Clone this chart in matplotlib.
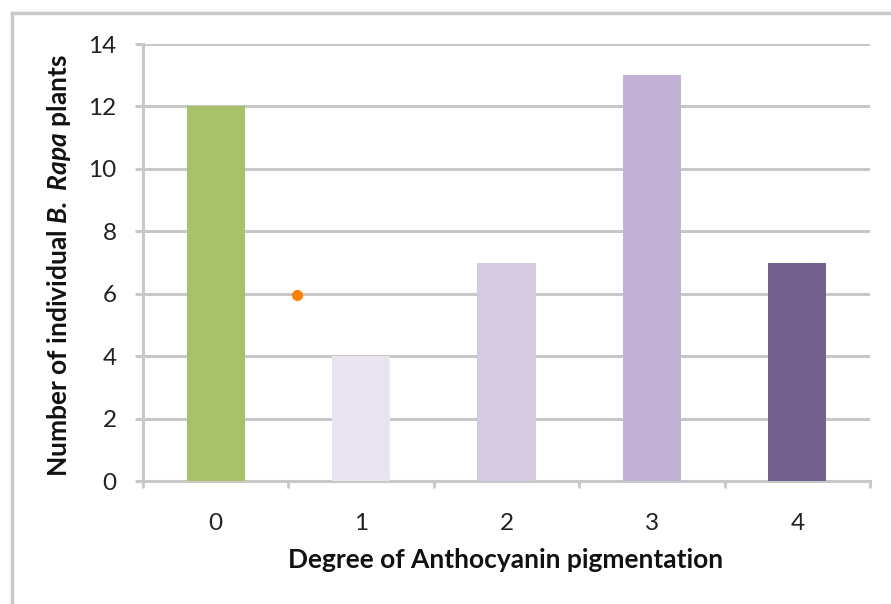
import matplotlib
matplotlib.use("Agg")
import matplotlib.pyplot as plt
from matplotlib.lines import Line2D
import numpy as np

categories = ["0", "1", "2", "3", "4"]
counts = [12, 4, 7, 13, 7]
bar_colors = ["#a9c26a", "#e9e4f0", "#d5cbe0", "#c1b1d4", "#74608f"]
yticks = [0, 2, 4, 6, 8, 10, 12, 14]

plt.rcParams['font.family'] = ['Lato', 'DejaVu Sans']
plt.rcParams['mathtext.fontset'] = 'custom'
plt.rcParams['mathtext.bfit'] = 'Lato:italic:bold'
plt.rcParams['mathtext.bf'] = 'Lato:bold'
plt.rcParams['mathtext.it'] = 'Lato:italic'
plt.rcParams['mathtext.rm'] = 'Lato'

W, H = 891, 604
fig = plt.figure(figsize=(W/100, H/100), dpi=100)
ax = fig.add_axes([143/W, 1-481/H, (870-143)/W, (481-44)/H])

grid_c = "#c8c8c8"
x = np.arange(len(categories))
ax.bar(x, counts, width=0.4, color=bar_colors, zorder=3)

ax.set_xlim(-0.5, len(categories)-0.5)
ax.set_ylim(0, 14)
ax.set_yticks(yticks)
ax.set_yticklabels([str(t) for t in yticks])
ax.yaxis.grid(True, color=grid_c, lw=2.2, zorder=0)
ax.set_axisbelow(True)

ax.set_xticks(x)
ax.set_xticklabels(categories)
ax.set_xticks(np.arange(len(categories)+1)-0.5, minor=True)
ax.tick_params(axis='x', which='major', length=0, pad=23, labelsize=17.5, labelcolor='#222222')
ax.tick_params(axis='x', which='minor', length=5, width=2, color=grid_c, direction='out')
ax.tick_params(axis='y', which='major', length=6, width=2.2, color=grid_c, pad=13, labelsize=17.5, labelcolor='#222222')

for s in ['top', 'right']:
    ax.spines[s].set_visible(False)
for s in ['left', 'bottom']:
    ax.spines[s].set_color(grid_c)
    ax.spines[s].set_linewidth(2.2)

ax.set_ylabel(r"Number of individual $\mathbfit{B.}$ $\mathbfit{Rapa}$ plants", fontsize=19, fontweight='bold', color='#111111')
ax.yaxis.set_label_coords((73-143)/(870-143), 1-(266-44)/(481-44))
ax.set_xlabel("Degree of Anthocyanin pigmentation", fontsize=19, fontweight='bold', color='#111111')
ax.xaxis.set_label_coords(0.499, -(548-481)/(481-44))

# small orange annotation mark present in the reference
ax.plot([0.56], [5.95], marker='o', color='#ff8000', markersize=7, zorder=5, clip_on=False)

# outer frame lines
fig.add_artist(Line2D([12/W, 1], [1-13/H, 1-13/H], color=grid_c, lw=2.5, transform=fig.transFigure))
fig.add_artist(Line2D([12/W, 12/W], [0, 1-13/H], color=grid_c, lw=2.5, transform=fig.transFigure))

fig.savefig("out.png", dpi=100)
